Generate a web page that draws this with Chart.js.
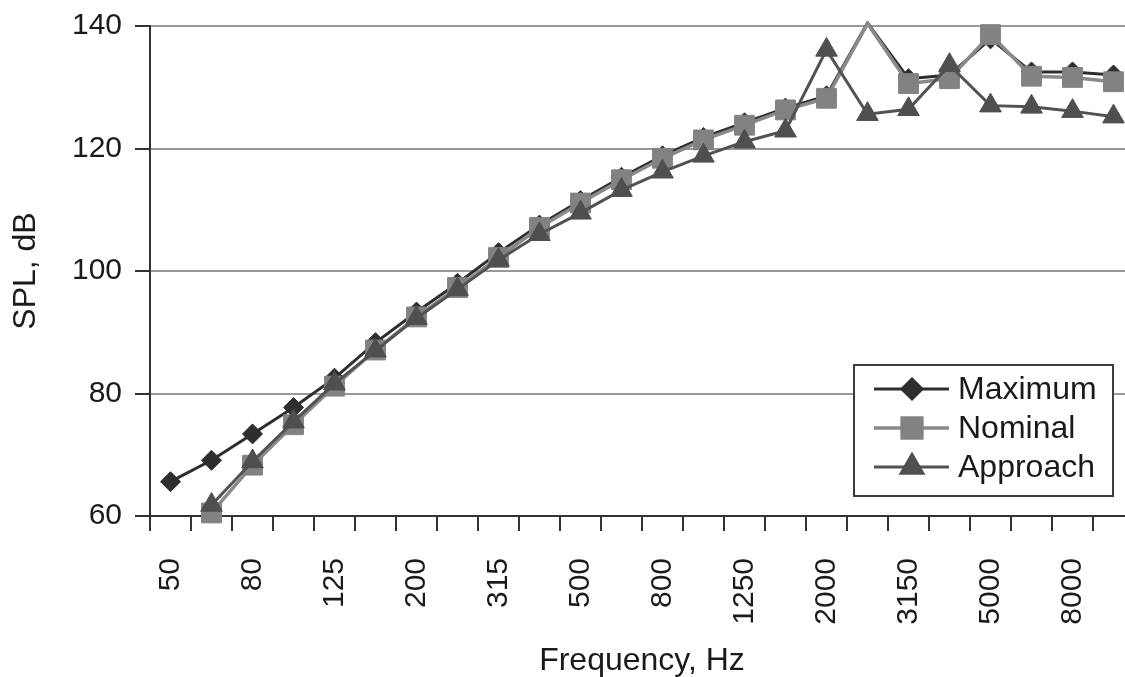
<!DOCTYPE html>
<html lang="en">
<head>
    <meta charset="UTF-8">
    <title>SPL vs Frequency</title>
    <script src="https://cdn.jsdelivr.net/npm/chart.js"></script>
    <style>
        html, body {
            margin: 0;
            padding: 0;
            background: white;
            overflow: hidden;
        }
        #wrap {
            position: absolute;
            left: 0;
            top: 0;
        }
    </style>
</head>
<body>
    <div id="wrap">
        <canvas id="grafico" width="1149" height="677"></canvas>
    </div>

    <script>
        // 1/3 octave bands, Hz
        const bandas = ['50', '63', '80', '100', '125', '160', '200', '250', '315', '400', '500', '630',
                        '800', '1000', '1250', '1600', '2000', '2500', '3150', '4000', '5000', '6300', '8000', '10000'];

        // SPL, dB
        const maximo = [65.6, 69.1, 73.4, 77.7, 82.5, 88.3, 93.3, 98.0, 103.0, 107.5, 111.5, 115.3,
                        118.8, 121.8, 124.2, 126.6, 128.6, 140.5, 131.4, 132.0, 137.9, 132.5, 132.5, 132.0];
        const nominal = [null, 60.5, 68.3, 74.9, 81.2, 87.1, 92.5, 97.3, 102.2, 107.1, 111.1, 114.9,
                         118.4, 121.4, 123.8, 126.3, 128.2, 140.4, 130.6, 131.4, 138.6, 131.8, 131.6, 130.9];
        const aproximacion = [null, 61.8, 68.9, 75.4, 81.6, 87.0, 92.3, 97.0, 101.8, 106.0, 109.5, 113.2,
                              116.2, 118.8, 121.1, 122.9, 136.1, 125.6, 126.4, 133.6, 127.0, 126.8, 126.1, 125.2];

        const yMin = 60, yMax = 140, yPaso = 20;

        const colorTexto = '#1a1a1a';
        const fuente = '"Liberation Sans", Arial, sans-serif';

        // hide markers that fall above the plot top (as in the original)
        function radio(r) {
            return ctx => (ctx.raw !== null && ctx.raw > yMax) ? 0 : r;
        }

        // legend drawn inside the plot area, bottom-right
        const leyenda = {
            id: 'leyenda',
            afterDraw(chart) {
                const ctx = chart.ctx;
                const area = chart.chartArea;
                const w = 259, h = 131;
                const x0 = area.right - 21 - w;
                const y0 = area.bottom - 20 - h;
                ctx.save();
                ctx.fillStyle = '#ffffff';
                ctx.fillRect(x0, y0, w, h);
                ctx.strokeStyle = '#3c3c3c';
                ctx.lineWidth = 2;
                ctx.strokeRect(x0, y0, w, h);

                chart.data.datasets.forEach((ds, i) => {
                    const y = y0 + 24 + i * 39;
                    ctx.strokeStyle = ds.borderColor;
                    ctx.lineWidth = ds.borderWidth;
                    ctx.beginPath();
                    ctx.moveTo(x0 + 20, y);
                    ctx.lineTo(x0 + 95, y);
                    ctx.stroke();

                    ctx.fillStyle = ds.pointBackgroundColor;
                    ctx.strokeStyle = ds.pointBorderColor;
                    Chart.helpers.drawPoint(ctx, {
                        pointStyle: ds.pointStyle,
                        radius: ds.legendRadius,
                        rotation: 0,
                        borderWidth: 1
                    }, x0 + 58, y);

                    ctx.fillStyle = colorTexto;
                    ctx.font = '32px ' + fuente;
                    ctx.textBaseline = 'middle';
                    ctx.textAlign = 'left';
                    ctx.fillText(ds.label, x0 + 104, y + 1);
                });
                ctx.restore();
            }
        };

        new Chart(document.getElementById('grafico'), {
            type: 'line',
            data: {
                labels: bandas,
                datasets: [{
                    label: 'Maximum',
                    data: maximo,
                    borderColor: '#2e2e2e',
                    borderWidth: 3,
                    pointStyle: 'rectRot',
                    pointRadius: radio(10),
                    legendRadius: 10,
                    pointBackgroundColor: '#2e2e2e',
                    pointBorderColor: '#2e2e2e',
                    pointBorderWidth: 1,
                    tension: 0,
                    order: 3,
                    clip: { left: false, right: false, bottom: false, top: 5 }
                }, {
                    label: 'Nominal',
                    data: nominal,
                    borderColor: '#8a8a8a',
                    borderWidth: 3.5,
                    pointStyle: 'rect',
                    pointRadius: radio(14),
                    legendRadius: 14,
                    pointBackgroundColor: '#828282',
                    pointBorderColor: '#828282',
                    pointBorderWidth: 1,
                    tension: 0,
                    order: 2,
                    clip: { left: false, right: false, bottom: false, top: 5 }
                }, {
                    label: 'Approach',
                    data: aproximacion,
                    borderColor: '#525252',
                    borderWidth: 3,
                    pointStyle: 'triangle',
                    pointRadius: radio(12.5),
                    legendRadius: 12.5,
                    pointBackgroundColor: '#4f4f4f',
                    pointBorderColor: '#4f4f4f',
                    pointBorderWidth: 1,
                    tension: 0,
                    order: 1,
                    clip: { left: false, right: false, bottom: false, top: 5 }
                }]
            },
            options: {
                responsive: false,
                animation: false,
                events: [],
                layout: {
                    padding: { top: 26, right: 11, left: 0, bottom: 0 }
                },
                plugins: {
                    legend: { display: false },
                    tooltip: { enabled: false }
                },
                scales: {
                    x: {
                        type: 'category',
                        offset: true,
                        grid: {
                            display: true,
                            offset: true,
                            drawOnChartArea: false,
                            drawTicks: true,
                            tickLength: 15,
                            tickColor: '#333333',
                            lineWidth: 2
                        },
                        border: { color: '#333333', width: 2 },
                        ticks: {
                            autoSkip: false,
                            minRotation: 90,
                            maxRotation: 90,
                            padding: 27,
                            color: colorTexto,
                            font: { family: fuente, size: 30 },
                            callback: function (val, i) {
                                return i % 2 === 0 ? this.getLabelForValue(val) : '';
                            }
                        },
                        title: {
                            display: true,
                            text: 'Frequency, Hz',
                            color: colorTexto,
                            font: { family: fuente, size: 32, lineHeight: 1 },
                            padding: { top: 0, bottom: 0 }
                        },
                        afterFit: scale => {
                            scale.height = 161;
                            scale.paddingLeft = 0;
                            scale.paddingRight = 0;
                        }
                    },
                    y: {
                        min: yMin,
                        max: yMax,
                        grid: {
                            color: '#999999',
                            lineWidth: 2,
                            drawTicks: true,
                            tickLength: 15,
                            tickColor: '#333333'
                        },
                        border: { color: '#333333', width: 2 },
                        ticks: {
                            stepSize: yPaso,
                            padding: 13,
                            color: colorTexto,
                            font: { family: fuente, size: 30 }
                        },
                        title: {
                            display: true,
                            text: 'SPL, dB',
                            color: colorTexto,
                            font: { family: fuente, size: 32, lineHeight: 1 },
                            padding: { top: 10, bottom: 0 }
                        },
                        afterFit: scale => {
                            scale.width = 150;
                            scale.paddingTop = 0;
                            scale.paddingBottom = 0;
                        }
                    }
                }
            },
            plugins: [leyenda]
        });
    </script>
</body>
</html>
